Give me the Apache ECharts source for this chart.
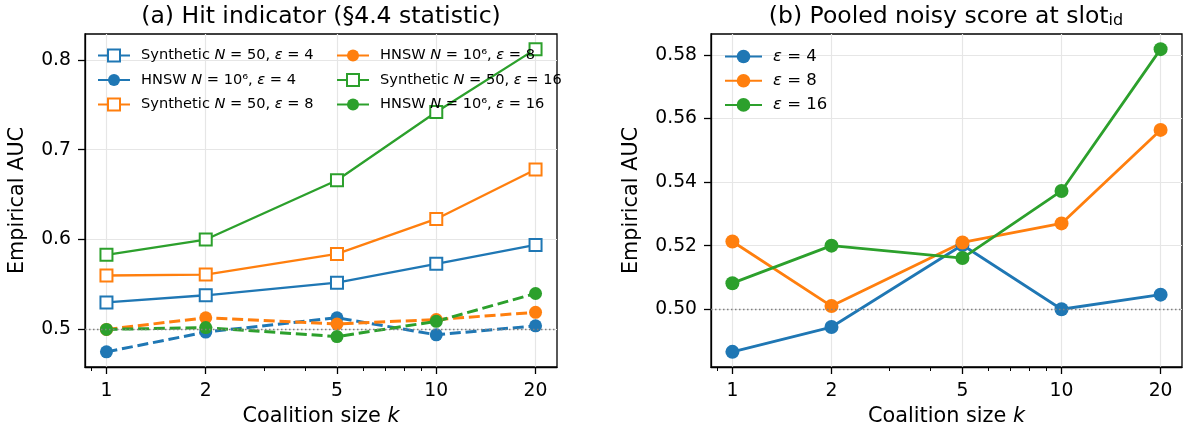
<!DOCTYPE html>
<html>
<head>
<meta charset="utf-8">
<script src="https://cdn.jsdelivr.net/npm/echarts@6/dist/echarts.min.js"></script>
<style>
html, body { margin: 0; padding: 0; background: #fff; }
#chart { width: 1192px; height: 432px; }
</style>
</head>
<body>
<div id="chart"></div>
<script>
// coalition sizes (log-scaled x axis)
var ks = [1, 2, 5, 10, 20];
var xTicks = [1, 2, 5, 10, 20];
var xMinorTicks = [0.9, 3, 4, 6, 7, 8, 9];
var leftYTicks = [0.5, 0.6, 0.7, 0.8];
var rightYTicks = [0.50, 0.52, 0.54, 0.56, 0.58];
var chance = 0.5;

// (a) hit indicator
var synEps4 = [0.530, 0.538, 0.552, 0.573, 0.594];
var synEps8 = [0.560, 0.561, 0.584, 0.623, 0.678];
var synEps16 = [0.583, 0.600, 0.666, 0.742, 0.812];
var hnswEps4 = [0.475, 0.497, 0.513, 0.494, 0.504];
var hnswEps8 = [0.500, 0.513, 0.506, 0.511, 0.519];
var hnswEps16 = [0.500, 0.502, 0.492, 0.509, 0.540];

// (b) pooled noisy score
var pooledEps4 = [0.4866, 0.4944, 0.5202, 0.500, 0.5046];
var pooledEps8 = [0.5213, 0.501, 0.521, 0.527, 0.5564];
var pooledEps16 = [0.5082, 0.520, 0.5161, 0.5372, 0.5818];

var blue = '#1f77b4', orange = '#ff7f0e', green = '#2ca02c';
var font = 'DejaVu Sans';

var names = {
    syn4: 'Synthetic N = 50, ε = 4',
    hnsw4: 'HNSW N = 10⁶, ε = 4',
    syn8: 'Synthetic N = 50, ε = 8',
    hnsw8: 'HNSW N = 10⁶, ε = 8',
    syn16: 'Synthetic N = 50, ε = 16',
    hnsw16: 'HNSW N = 10⁶, ε = 16',
    p4: 'ε = 4',
    p8: 'ε = 8',
    p16: 'ε = 16'
};

function padRange(vals) {
    var lo = Math.min.apply(null, vals), hi = Math.max.apply(null, vals);
    var m = (hi - lo) * 0.05;
    return [lo - m, hi + m];
}
function pts(vals) {
    return ks.map(function (k, i) { return [Math.log10(k), vals[i]]; });
}

var xr = padRange(ks.map(Math.log10));
var lyr = padRange([].concat(synEps4, synEps8, synEps16, hnswEps4, hnswEps8, hnswEps16));
var ryr = padRange([].concat(pooledEps4, pooledEps8, pooledEps16));

var tickLine = { color: '#000', width: 1.3 };
var gridLine = { show: true, lineStyle: { color: '#e6e6e6', width: 1.2 } };

function mainX(gi) {
    var vals = xTicks.map(Math.log10);
    return {
        type: 'value', gridIndex: gi, position: 'bottom', min: xr[0], max: xr[1],
        name: 'Coalition size {it|k}', nameLocation: 'middle', nameGap: 38,
        nameTextStyle: { fontFamily: font, fontSize: 20.8, color: '#000',
            rich: { it: { fontFamily: font, fontSize: 20.8, fontStyle: 'italic', color: '#000' } } },
        axisLine: { show: true, onZero: false, lineStyle: tickLine },
        axisTick: { show: true, inside: false, length: 7, lineStyle: tickLine, customValues: vals },
        axisLabel: { customValues: vals, margin: 15, fontSize: 18.75, color: '#000', fontFamily: font,
            formatter: function (v) { return String(Math.round(Math.pow(10, v))); } },
        splitLine: gridLine
    };
}
function minorX(gi) {
    return {
        type: 'value', gridIndex: gi, position: 'bottom', min: xr[0], max: xr[1],
        axisLine: { show: false, onZero: false },
        axisTick: { show: true, inside: false, length: 4, lineStyle: { color: '#000', width: 1 },
            customValues: xMinorTicks.map(Math.log10) },
        axisLabel: { show: false },
        splitLine: { show: false }
    };
}
function yAx(gi, range, ticks, dec, gap) {
    return {
        type: 'value', gridIndex: gi, position: 'left', min: range[0], max: range[1],
        name: 'Empirical AUC', nameLocation: 'middle', nameGap: gap,
        nameTextStyle: { fontFamily: font, fontSize: 20.8, color: '#000' },
        axisLine: { show: true, onZero: false, lineStyle: tickLine },
        axisTick: { show: true, inside: false, length: 7, lineStyle: tickLine, customValues: ticks },
        axisLabel: { customValues: ticks, margin: 14, fontSize: 18.75, color: '#000', fontFamily: font,
            formatter: function (v) { return v.toFixed(dec); } },
        splitLine: gridLine
    };
}

function chanceLine() {
    return {
        silent: true, symbol: ['none', 'none'], label: { show: false },
        lineStyle: { type: [1.5, 2.5], color: '#808080', width: 1.3 },
        data: [{ yAxis: chance }]
    };
}

function synSeries(name, vals, c) {
    return {
        type: 'line', name: name, xAxisIndex: 0, yAxisIndex: 0, data: pts(vals),
        symbol: 'emptyRect', symbolSize: 12,
        itemStyle: { color: c, borderWidth: 2 },
        lineStyle: { color: c, width: 2.3 }
    };
}
function hnswSeries(name, vals, c) {
    return {
        type: 'line', name: name, xAxisIndex: 0, yAxisIndex: 0, data: pts(vals),
        symbol: 'circle', symbolSize: 13,
        itemStyle: { color: c, borderWidth: 0 },
        lineStyle: { color: c, width: 3, type: [11, 4.8] }
    };
}
function pooledSeries(name, vals, c) {
    return {
        type: 'line', name: name, xAxisIndex: 2, yAxisIndex: 1, data: pts(vals),
        symbol: 'circle', symbolSize: 14,
        itemStyle: { color: c, borderWidth: 0 },
        lineStyle: { color: c, width: 2.8 }
    };
}

function legendText(size) {
    return {
        fontFamily: font, fontSize: size, color: '#000', padding: [0, 0, 0, 6],
        rich: { it: { fontFamily: font, fontSize: size, fontStyle: 'italic', color: '#000' } }
    };
}
function legendFmt(name) {
    return name.replace(' N =', ' {it|N} =').replace('ε', '{it|ε}');
}

var s1 = synSeries(names.syn4, synEps4, blue);
s1.markLine = chanceLine();
var p1 = pooledSeries(names.p4, pooledEps4, blue);
p1.markLine = chanceLine();

var chart = echarts.init(document.getElementById('chart'));
chart.setOption({
    animation: false,
    textStyle: { fontFamily: font },
    title: [
        { text: '(a) Hit indicator (§4.4 statistic)', left: 321, top: 5, padding: 0, textAlign: 'center',
          textStyle: { fontFamily: font, fontSize: 23.5, fontWeight: 'normal', color: '#000' } },
        { text: '(b) Pooled noisy score at slot{sub|id}', left: 946, top: 5, padding: 0, textAlign: 'center',
          textStyle: { fontFamily: font, fontSize: 23.5, fontWeight: 'normal', color: '#000',
            rich: { sub: { fontFamily: font, fontSize: 16, lineHeight: 10, verticalAlign: 'bottom', color: '#000' } } } }
    ],
    grid: [
        { left: 85, top: 34, width: 472, height: 333, show: true, borderColor: '#000', borderWidth: 1.3 },
        { left: 711, top: 34, width: 471, height: 333, show: true, borderColor: '#000', borderWidth: 1.3 }
    ],
    xAxis: [mainX(0), minorX(0), mainX(1), minorX(1)],
    yAxis: [yAx(0, lyr, leftYTicks, 1, 57), yAx(1, ryr, rightYTicks, 2, 69)],
    legend: [
        { orient: 'vertical', left: 97, top: 48, padding: 0, itemWidth: 32, itemHeight: 15, itemGap: 9.5,
          selectedMode: false, lineStyle: { type: 'solid' }, textStyle: legendText(14.6), formatter: legendFmt,
          data: [names.syn4, names.hnsw4, names.syn8] },
        { orient: 'vertical', left: 336, top: 48, padding: 0, itemWidth: 32, itemHeight: 15, itemGap: 9.5,
          selectedMode: false, lineStyle: { type: 'solid' }, textStyle: legendText(14.6), formatter: legendFmt,
          data: [names.hnsw8, names.syn16, names.hnsw16] },
        { orient: 'vertical', left: 724, top: 48, padding: 0, itemWidth: 37, itemHeight: 17, itemGap: 7.2,
          selectedMode: false, textStyle: legendText(16.5), formatter: legendFmt,
          data: [names.p4, names.p8, names.p16] }
    ],
    series: [
        s1,
        hnswSeries(names.hnsw4, hnswEps4, blue),
        synSeries(names.syn8, synEps8, orange),
        hnswSeries(names.hnsw8, hnswEps8, orange),
        synSeries(names.syn16, synEps16, green),
        hnswSeries(names.hnsw16, hnswEps16, green),
        p1,
        pooledSeries(names.p8, pooledEps8, orange),
        pooledSeries(names.p16, pooledEps16, green)
    ]
});
</script>
</body>
</html>
